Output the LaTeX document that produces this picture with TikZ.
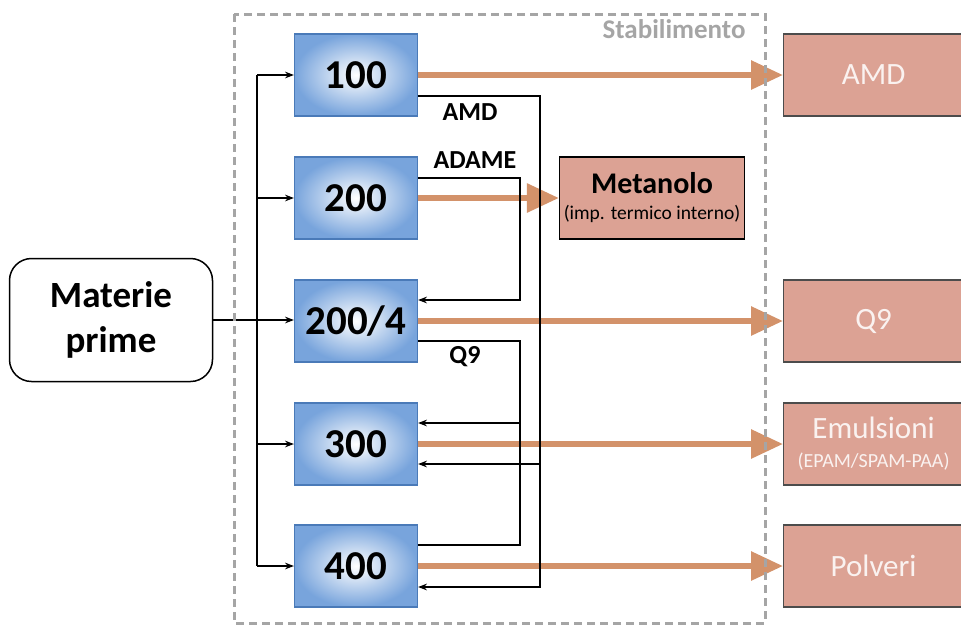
\documentclass[tikz,border=0pt]{standalone}
\usepackage{fontspec}
\setmainfont{Carlito}
\usetikzlibrary{arrows.meta}
\definecolor{unitblue}{HTML}{78A4DC}
\definecolor{unitedge}{HTML}{4A7AB8}
\definecolor{salmon}{HTML}{DCA294}
\definecolor{flow}{HTML}{D3926A}
\definecolor{plantgray}{HTML}{A5A5A5}
\definecolor{boxtext}{HTML}{FAF2F0}

\begin{document}
\begin{tikzpicture}[x=1pt,y=-1pt,>=Stealth,
    unit/.style={draw=unitedge,line width=1.2pt,inner color=white,outer color=unitblue,
      minimum width=123pt,minimum height=82pt,font=\fontsize{41}{44}\selectfont\bfseries},
    product/.style={draw=black!70,line width=1.2pt,fill=salmon,minimum width=180pt,
      minimum height=82pt,anchor=west,text=boxtext,align=center,font=\fontsize{31}{33}\selectfont},
    stream/.style={line width=6pt,flow,-{Triangle[length=32pt,width=28pt]}},
    feed/.style={line width=1.3pt,->},
    link/.style={line width=1.3pt},
    tag/.style={font=\fontsize{26}{28}\selectfont\bfseries}]
    \useasboundingbox (0,0) rectangle (961,625);
    \clip (0,0) rectangle (961,625);
    % units
    \node[unit] (u100) at (356,75) {100};
    \node[unit] (u200) at (356,198) {200};
    \node[unit] (u2004) at (356,321) {200/4};
    \node[unit] (u300) at (356,444) {300};
    \node[unit] (u400) at (356,566) {400};
    % raw material and products
    \node[draw,line width=1.5pt,rounded corners=22pt,minimum width=203pt,minimum height=123pt,
      align=center,font=\fontsize{37}{45}\selectfont\bfseries] (mp) at (111,320) {Materie\\prime};
    \node[product] (pamd) at (783,75) {AMD};
    \node[product] (pq9) at (783,321) {Q9};
    \node[product] (pemu) at (783,444) {Emulsioni\\[-4pt]{\fontsize{20}{22}\selectfont(EPAM/SPAM-PAA)}};
    \node[product] (ppol) at (783,566) {Polveri};
    \node[draw,line width=1.2pt,fill=salmon,minimum width=185pt,minimum height=82pt,align=center,
      font=\fontsize{30}{32}\selectfont\bfseries] (met) at (652,198)
      {Metanolo\\[-6pt]{\fontsize{19.5}{21}\selectfont\mdseries(imp. termico interno)}};
    % product streams
    \draw[stream] (u100.east) -- (pamd.west);
    \draw[stream] (u200.east) -- (met.west);
    \draw[stream] (u2004.east) -- (pq9.west);
    \draw[stream] (u300.east) -- (pemu.west);
    \draw[stream] (u400.east) -- (ppol.west);
    % feed from raw material
    \coordinate (trunk) at (257,0);
    \draw[link] (trunk |- u100) -- (trunk |- u400);
    \foreach \u in {u100,u200,u300,u400}
      \draw[feed] (trunk |- \u) -- (\u.west);
    \draw[feed] (mp.east) -- (mp.east -| u2004.west);
    % internal exchanges
    \coordinate (amdbus) at (540,0);
    \coordinate (q9bus) at (520,0);
    \coordinate (amdout) at ([yshift=-21pt]u100.east);
    \coordinate (amdin) at ([yshift=-21pt]u400.east);
    \coordinate (amdin3) at ([yshift=-20pt]u300.east);
    \coordinate (adameout) at ([yshift=20pt]u200.east);
    \coordinate (adamein) at ([yshift=21pt]u2004.east);
    \coordinate (q9out) at ([yshift=-20pt]u2004.east);
    \coordinate (q9in) at ([yshift=21pt]u400.east);
    \coordinate (q9in3) at ([yshift=21pt]u300.east);
    \draw[feed] (amdout) -| (amdbus |- amdin) -- (amdin);
    \draw[feed] (amdbus |- amdin3) -- (amdin3);
    \draw[feed] (adameout) -| (q9bus |- adamein) -- (adamein);
    \draw[link] (q9out) -| (q9bus |- q9in) -- (q9in);
    \draw[feed] (q9bus |- q9in3) -- (q9in3);
    \node[tag] (tamd) at (470,112) {AMD};
    \node[tag] (tadame) at (475,160) {ADAME};
    \node[tag] (tq9) at (465,357) {Q9};
    % plant boundary
    \draw[plantgray,line width=3pt,dash pattern=on 8pt off 5pt] (234,14) rectangle (765,623);
    \node[text=plantgray,font=\fontsize{27}{29}\selectfont\bfseries] (plant) at (674,29) {Stabilimento};
  \end{tikzpicture}
\end{document}
